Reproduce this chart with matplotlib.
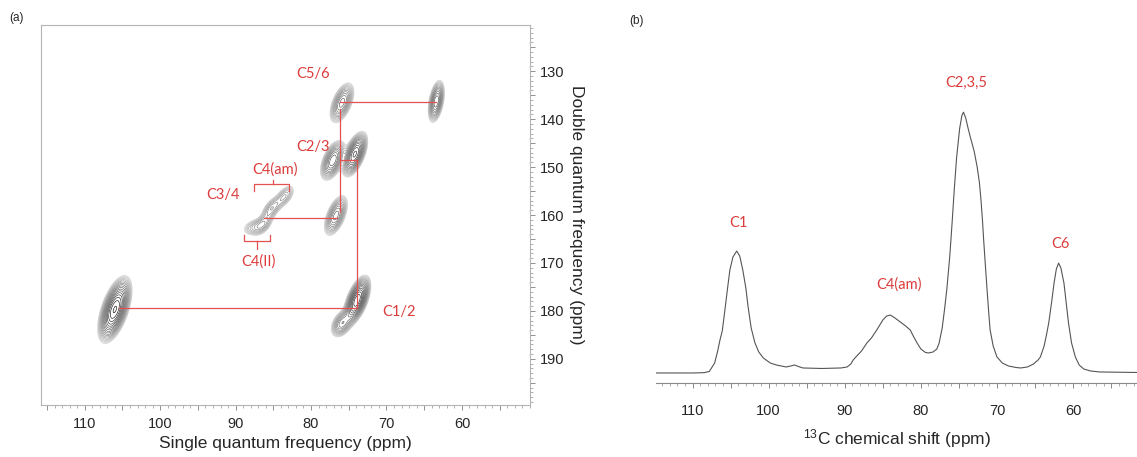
import numpy as np
import matplotlib
matplotlib.use("Agg")
from matplotlib import pyplot as plt
from matplotlib.ticker import MultipleLocator, FuncFormatter

plt.rcParams['font.family'] = ['Liberation Sans', 'DejaVu Sans']
plt.rcParams['mathtext.default'] = 'regular'

# ---- (a) 2D DQ/SQ correlation peaks, positions in ppm ----
peak_sq = [106.0, 73.9, 75.9, 77.1, 74.2, 75.9, 63.4, 76.7, 83.5, 85.2, 86.3, 87.5]
peak_dq = [179.7, 177.8, 182.6, 148.6, 147.3, 136.6, 136.3, 160.1, 156.1, 158.6, 161.8, 162.5]
peak_amp = [1.0, 0.95, 0.3, 0.45, 0.7, 0.35, 0.45, 0.35, 0.15, 0.17, 0.14, 0.12]
peak_wdq = [2.8, 2.1, 1.4, 1.9, 2.0, 2.0, 2.0, 2.0, 1.3, 1.3, 1.3, 1.0]
peak_wsq = [0.75, 0.6, 0.65, 0.65, 0.6, 0.65, 0.45, 0.62, 0.6, 0.6, 0.6, 0.85]
peak_tilt = [0.18, 0.2, 0.2, 0.2, 0.2, 0.2, 0.1, 0.2, 0.3, 0.3, 0.3, 0.3]

# red connectivity lines (sq start, sq end, dq start, dq end)
conn_sq0 = [105.5, 73.9, 76.1, 76.1, 76.1, 86.3]
conn_sq1 = [73.9, 73.9, 73.9, 76.1, 63.4, 76.6]
conn_dq0 = [179.3, 179.3, 148.6, 137.8, 136.4, 160.7]
conn_dq1 = [179.3, 148.6, 148.6, 159.3, 136.4, 160.7]

labels_a = ['C5/6', 'C2/3', 'C4(am)', 'C3/4', 'C4(II)', 'C1/2']
labels_a_sq = [79.7, 79.8, 84.8, 91.7, 87.0, 68.4]
labels_a_dq = [130.5, 145.8, 150.5, 155.8, 169.8, 180.2]

# ---- (b) 1D 13C CP/MAS spectrum ----
shift = [114.8, 110.0, 108.5, 107.8, 107.1, 106.7, 106.4, 106.1, 105.8, 105.4, 105.1, 104.7,
         104.2, 103.8, 103.4, 103.0, 102.7, 102.3, 101.8, 101.3, 100.7, 99.8, 99.0, 97.7,
         97.1, 96.6, 96.1, 95.5, 93.0, 90.5, 89.7, 89.2, 88.9, 88.3, 87.8, 87.1, 86.5, 85.8,
         85.0, 84.5, 84.0, 83.4, 82.7, 82.0, 81.4, 81.0, 80.5, 80.0, 79.4, 79.0, 78.4, 77.9,
         77.6, 77.2, 76.9, 76.6, 76.2, 75.9, 75.6, 75.3, 74.9, 74.6, 74.4, 74.1, 73.8, 73.5,
         73.0, 72.6, 72.3, 72.1, 71.9, 71.75, 71.5, 71.3, 71.1, 70.9, 70.5, 70.0, 69.3, 68.5,
         67.5, 66.9, 66.0, 65.2, 64.6, 64.3, 63.8, 63.5, 63.2, 62.8, 62.5, 62.2, 61.9, 61.6,
         61.2, 60.9, 60.6, 60.2, 59.7, 59.2, 58.6, 57.7, 56.5, 51.6]
intensity = [0, 0, 0.3, 1.5, 10, 22, 33, 42, 60, 85, 103, 116,
             122, 117, 103, 85, 66, 45, 30, 21, 15, 10, 8, 6,
             7, 8, 6.5, 5, 4.5, 5, 6, 9, 13, 18, 22, 30, 35, 43,
             53, 57, 58, 55, 51, 47, 43, 37, 30, 24, 20.5, 20, 21, 24,
             30, 45, 63, 83, 117, 150, 185, 216, 245, 258, 261, 255, 245, 236,
             222, 206, 190, 173, 152, 133, 105, 83, 62, 43, 27, 16, 10, 7,
             5.5, 5, 6, 9, 13, 16, 27, 38, 50, 72, 90, 104, 110, 105,
             90, 70, 50, 30, 16, 8, 4, 2, 1, 0.5]

labels_b = ['C1', 'C4(am)', 'C2,3,5', 'C6']
labels_b_x = [104.0, 82.9, 74.1, 61.6]
labels_b_y = [150, 88, 290, 129]

red = '#dc3c3c'
line_red = '#e35050'
spine_gray = '#b4b4b4'
text_col = '#262626'
red_font = ['Lato', 'DejaVu Sans']

fig = plt.figure(figsize=(11.37, 4.57), dpi=100)

# ------------------------------- panel (a) -------------------------------
ax = fig.add_axes([0.036, 0.114, 0.430, 0.832])

sq = np.arange(50, 117, 0.06)
dq = np.arange(119, 201, 0.06)
SQ, DQ = np.meshgrid(sq, dq)
Z = np.zeros_like(SQ)
for i in range(len(peak_sq)):
    u = DQ - peak_dq[i]
    v = (SQ - peak_sq[i]) - peak_tilt[i] * u
    Z += peak_amp[i] * np.exp(-0.5 * (u / peak_wdq[i]) ** 2 - 0.5 * (v / peak_wsq[i]) ** 2)

levels = np.geomspace(0.04, 0.97, 18)
cols = plt.cm.Greys(np.linspace(0.3, 0.95, len(levels)))
ax.contour(SQ, DQ, Z, levels=levels, colors=cols, linewidths=0.45)

for i in range(len(conn_sq0)):
    ax.plot([conn_sq0[i], conn_sq1[i]], [conn_dq0[i], conn_dq1[i]], color=line_red, lw=0.9, zorder=5)

# brackets for C4(am) and C4(II)
ax.plot([87.5, 87.5, 82.9, 82.9], [155.0, 153.6, 153.6, 155.0], color=line_red, lw=0.9)
ax.plot([85.1, 85.1], [153.6, 152.6], color=line_red, lw=0.9)
ax.plot([88.9, 88.9, 85.45, 85.45], [164.2, 165.5, 165.5, 164.2], color=line_red, lw=0.9)
ax.plot([87.1, 87.1], [165.5, 167.0], color=line_red, lw=0.9)

for t, x, y in zip(labels_a, labels_a_sq, labels_a_dq):
    ax.text(x, y, t, color=red, fontsize=10.5, family=red_font, ha='center', va='center')

ax.set_xlim(115.8, 51)
ax.set_ylim(199.6, 120.3)
ax.xaxis.set_major_locator(MultipleLocator(5))
ax.xaxis.set_minor_locator(MultipleLocator(1))
ax.yaxis.set_major_locator(MultipleLocator(5))
ax.yaxis.set_minor_locator(MultipleLocator(1))
fmt = FuncFormatter(lambda v, p: '%d' % v if abs(v % 10) < 1e-6 else '')
ax.xaxis.set_major_formatter(fmt)
ax.yaxis.set_major_formatter(fmt)
ax.yaxis.tick_right()
ax.yaxis.set_label_position('right')
ax.tick_params(which='both', direction='out', color='#909090', labelcolor=text_col, labelsize=10.5)
ax.tick_params(which='major', length=3.5, width=0.7)
ax.tick_params(which='minor', length=2, width=0.5)
ax.tick_params(axis='x', pad=5)
for s in ax.spines.values():
    s.set_color(spine_gray)
    s.set_linewidth(0.8)
ax.set_xlabel('Single quantum frequency (ppm)', fontsize=12.5, color=text_col, labelpad=4)
ax.set_ylabel('Double quantum frequency (ppm)', fontsize=12.5, color=text_col, rotation=270,
              labelpad=14)

fig.text(17 / 1137, 1 - 18 / 457, '(a)', fontsize=8.5, ha='center', va='center', color=text_col)
fig.text(636 / 1137, 1 - 21 / 457, '(b)', fontsize=8.5, ha='center', va='center', color=text_col)

# ------------------------------- panel (b) -------------------------------
bx = fig.add_axes([0.577, 0.162, 0.423, 0.75])
bx.plot(shift, intensity, color='#555555', lw=0.8)
for t, x, y in zip(labels_b, labels_b_x, labels_b_y):
    bx.text(x, y, t, color=red, fontsize=10.5, family=red_font, ha='center', va='center')

bx.set_xlim(114.8, 51.6)
bx.set_ylim(-10, 333)
for k in ['top', 'left', 'right']:
    bx.spines[k].set_visible(False)
bx.spines['bottom'].set_color('#8a8a8a')
bx.spines['bottom'].set_linewidth(0.8)
bx.set_yticks([])
bx.xaxis.set_major_locator(MultipleLocator(5))
bx.xaxis.set_minor_locator(MultipleLocator(1))
bx.xaxis.set_major_formatter(fmt)
bx.tick_params(which='both', direction='out', color='#8a8a8a', labelcolor=text_col, labelsize=10.5)
bx.tick_params(which='major', length=3.5, width=0.7, pad=12)
bx.tick_params(which='minor', length=2, width=0.5)
bx.set_xlabel('$^{13}$C chemical shift (ppm)', fontsize=12.5, color=text_col, labelpad=6)

fig.savefig('out.png', dpi=100)
